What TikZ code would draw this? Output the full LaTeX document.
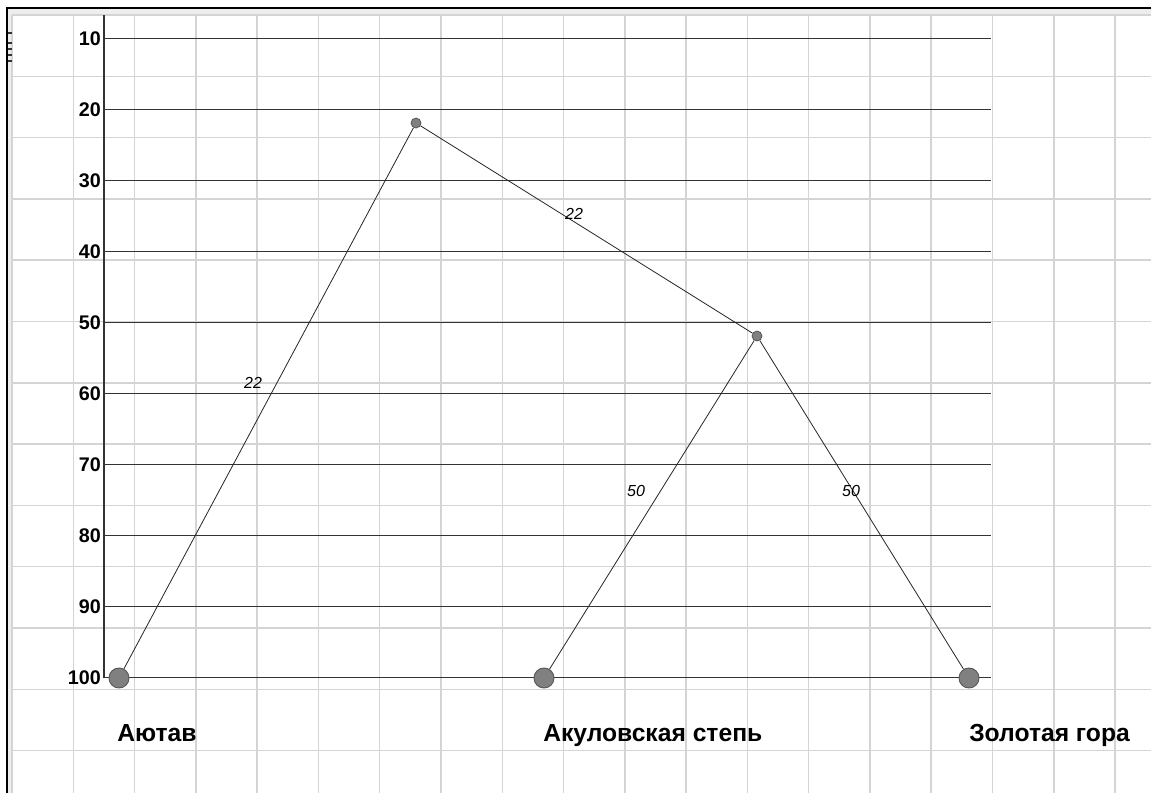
\documentclass[tikz,border=0pt]{standalone}
\usepackage{fontspec}
\setmainfont{Liberation Sans}
\usetikzlibrary{positioning}
\tikzset{
  gridline/.style={draw=black!17,line width=1.1pt},
  levelline/.style={draw=black!80,line width=1.1pt},
  edge/.style={draw=black!85,line width=0.6pt},
  leaf/.style={circle,draw=black!65,fill=black!50,line width=0.7pt,minimum size=15pt,inner sep=0pt},
  junction/.style={circle,draw=black!70,fill=black!50,line width=0.5pt,minimum size=7.5pt,inner sep=0pt},
  scalelbl/.style={anchor=east,inner sep=0pt,font=\fontsize{14.8}{16}\selectfont\bfseries},
  weight/.style={inner sep=0pt,font=\fontsize{12}{13}\selectfont\itshape},
  placename/.style={anchor=base west,inner sep=0pt,font=\fontsize{18.5}{22}\selectfont\bfseries}
}
\begin{document}
\begin{tikzpicture}[x=0.75pt,y=-0.75pt]
  \useasboundingbox (0,0) rectangle (1151,793);
  \fill[white] (0,0) rectangle (1151,793);
  % frame band and grid
  \fill[black!7] (8,9) rectangle (1151,15);
  \fill[black!7] (8,9) rectangle (12,793);
  \foreach \i in {0,...,18} \draw[gridline] (12+61.28*\i,15) -- (12+61.28*\i,793);
  \foreach \j in {0,...,12} \draw[gridline] (12,15+61.3*\j) -- (1151,15+61.3*\j);
  \draw[line width=2pt] (7,793) -- (7,8) -- (1151,8);
  \foreach \t in {33,43,49,55,61} \draw[line width=1.2pt,black!80] (8,\t) -- (12,\t);
  % levels
  \draw[levelline] (104,15) -- (104,678);
  \foreach \v in {10,20,...,100} {
    \draw[levelline] (104,{38.5+(\v-10)*7.1}) -- (991,{38.5+(\v-10)*7.1});
    \node[scalelbl] (lv\v) at (101,{38.5+(\v-10)*7.1}) {\v};
  }
  % tree
  \node[junction] (top) at (416,123) {};
  \node[junction] (mid) at (757,336) {};
  \node[leaf] (ajutav) at (119,678) {};
  \node[leaf] (akul) at (544,678) {};
  \node[leaf] (zolot) at (969,678) {};
  \draw[edge] (ajutav) -- (top);
  \draw[edge] (top) -- (mid);
  \draw[edge] (mid) -- (akul);
  \draw[edge] (mid) -- (zolot);
  \node[weight] (w1) at (253,383) {22};
  \node[weight] (w2) at (574,214) {22};
  \node[weight] (w3) at (636,491) {50};
  \node[weight] (w4) at (851,491) {50};
  \node[placename] (nm1) at (117,741.5) {Аютав};
  \node[placename] (nm2) at (543,741.5) {Акуловская степь};
  \node[placename] (nm3) at (969,741.5) {Золотая гора};
\end{tikzpicture}
\end{document}
